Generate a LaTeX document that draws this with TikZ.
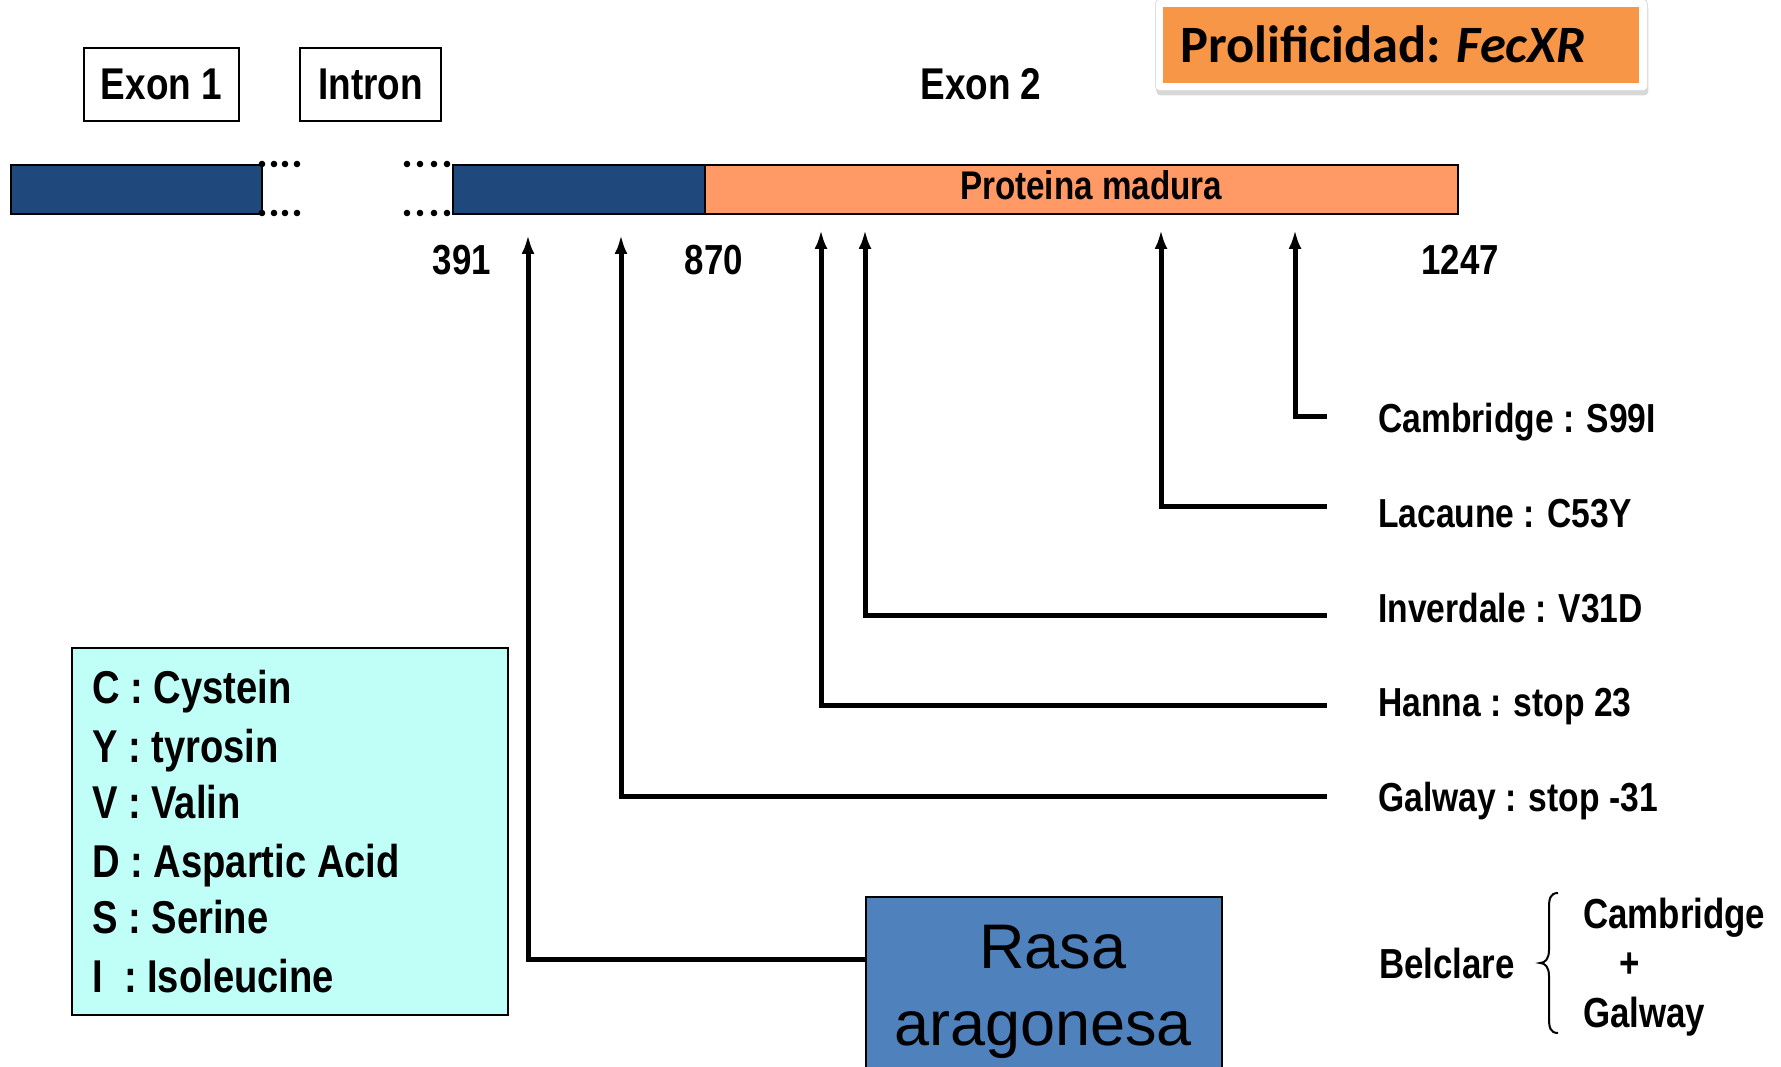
\documentclass[tikz,border=0pt]{standalone}
\usepackage{fontspec}
\setmainfont{Liberation Sans}
\newfontfamily\nb[FakeStretch=0.83]{Liberation Sans Bold}
\newfontfamily\carl{Carlito}
\usetikzlibrary{arrows.meta,shadows}
\definecolor{dblue}{HTML}{1F497D}
\definecolor{protorange}{HTML}{FF9A66}
\definecolor{titleorange}{HTML}{F79646}
\definecolor{rasablue}{HTML}{4F81BD}
\definecolor{legcyan}{HTML}{C0FFF8}
\begin{document}
\begin{tikzpicture}[x=1pt,y=-1pt,
  lbl/.style={font={\nb\fontsize{40.5}{48}\selectfont}, inner sep=0pt, anchor=base west},
  leg/.style={font={\nb\fontsize{46}{54}\selectfont}, inner sep=0pt, anchor=base west},
  num/.style={font={\nb\fontsize{42}{50}\selectfont}, inner sep=0pt, anchor=base},
  exbox/.style={draw, line width=2pt, fill=white, inner sep=0pt, anchor=north west,
    font={\nb\fontsize{44.5}{52}\selectfont}},
  bar/.style={draw, line width=2pt, inner sep=0pt, anchor=north west, minimum height=49pt},
  conn/.style={line width=5pt, -{Latex[length=19pt,width=13pt]}},
  dotc/.style={fill=black}
]
\useasboundingbox (0,0) rectangle (1781,1067);
\fill[white] (0,0) rectangle (1781,1067);
\clip (0,0) rectangle (1781,1067);

% header boxes
\node[exbox, minimum width=155pt, minimum height=73pt] (exon1) at (83,47) {Exon 1};
\node[exbox, minimum width=141pt, minimum height=73pt] (intron) at (299,47) {Intron};
\node[num, font={\nb\fontsize{44.5}{52}\selectfont}] (exon2) at (981,100) {Exon 2};

% title box
\node[fill=white, draw=gray!25, line width=0.8pt, rounded corners=4pt, anchor=north west, minimum width=492pt, minimum height=91pt,
  inner sep=0pt, drop shadow={shadow xshift=1pt, shadow yshift=-5pt, opacity=0.3, fill=gray}] (titleframe) at (1155,-1) {};
\node[fill=titleorange, anchor=north west, minimum width=476pt, minimum height=76pt, inner sep=0pt] (titlebox) at (1163,7) {};
\node[inner sep=0pt, anchor=base west, font={\carl\bfseries\fontsize{52.5}{60}\selectfont}] (title) at (1180,63) {Prolificidad: \textit{FecXR}};

% gene bar
\node[bar, fill=dblue, minimum width=251pt] (bar1) at (10,164) {};
\node[bar, fill=dblue, minimum width=252pt] (bar2) at (452,164) {};
\node[bar, fill=protorange, minimum width=753pt] (bar3) at (704,164) {};
\node[inner sep=0pt, anchor=base, font={\nb\fontsize{40}{48}\selectfont}] (prot) at (1091,200) {Proteina madura};
\foreach \x in {262,274,285,297,407,420,434,447} {
  \fill[dotc] (\x,164) circle (3.3pt);
  \fill[dotc] (\x,213) circle (3.3pt);
}

% numbers
\node[num] (n391) at (462,275) {391};
\node[num] (n870) at (714,275) {870};
\node[num] (n1247) at (1460,275) {1247};

% arrow tips
\coordinate (t1) at (528,235);
\coordinate (t2) at (621,235);
\coordinate (t3) at (821,230);
\coordinate (t4) at (865,230);
\coordinate (t5) at (1161,230);
\coordinate (t6) at (1295,230);
% connector ends
\coordinate (c6) at (1327,416);
\coordinate (c5) at (1327,506);
\coordinate (c4) at (1327,615);
\coordinate (c3) at (1327,705);
\coordinate (c2) at (1327,796);

% labels
\node[lbl] (lcam) at (1378,432) {Cambridge : S99I};
\node[lbl] (llac) at (1378,527) {Lacaune : C53Y};
\node[lbl] (linv) at (1378,622) {Inverdale : V31D};
\node[lbl] (lhan) at (1378,716) {Hanna : stop 23};
\node[lbl] (lgal) at (1378,811) {Galway : stop -31};

% legend
\node[draw, line width=2pt, fill=legcyan, anchor=north west, minimum width=436pt, minimum height=367pt, inner sep=0pt] (legend) at (71,647) {};
\node[leg] (lc) at (92,703) {C : Cystein};
\node[leg] (ly) at (92,762) {Y : tyrosin};
\node[leg] (lv) at (92,818) {V : Valin};
\node[leg] (ld) at (92,877) {D : Aspartic Acid};
\node[leg] (ls) at (92,933) {S : Serine};
\node[leg] (li) at (92,992) {I\ \ : Isoleucine};

% Rasa aragonesa
\node[draw, line width=1.5pt, fill=rasablue, anchor=north west, minimum width=356pt, minimum height=200pt, inner sep=0pt] (rasa) at (865,896) {};
\node[inner sep=0pt, anchor=base, font={\fontsize{63}{75}\selectfont}] (rasa1) at (1053,968) {Rasa};
\node[inner sep=0pt, anchor=base, font={\fontsize{63}{75}\selectfont}] (rasa2) at (1043,1045) {aragonesa};

% connectors
\draw[conn] (c6) -| (t6);
\draw[conn] (c5) -| (t5);
\draw[conn] (c4) -| (t4);
\draw[conn] (c3) -| (t3);
\draw[conn] (c2) -| (t2);
\draw[conn] (rasa.north west) ++(0,63) -| (t1);

% Belclare
\node[lbl, font={\nb\fontsize{42}{50}\selectfont}] (belc) at (1379,978) {Belclare};
\node[lbl, font={\nb\fontsize{42}{50}\selectfont}] (bcam) at (1583,928) {Cambridge};
\node[inner sep=0pt, font={\nb\fontsize{42}{50}\selectfont}] (bplus) at (1630,965) {+};
\node[lbl, font={\nb\fontsize{42}{50}\selectfont}] (bgal) at (1583,1027) {Galway};
\draw[line width=2pt] (1558,893) .. controls (1550,893) and (1549,899) .. (1549,908) -- (1549,950)
  .. controls (1549,959) and (1545,963) .. (1540,963)
  .. controls (1545,963) and (1549,967) .. (1549,976) -- (1549,1018)
  .. controls (1549,1027) and (1550,1033) .. (1558,1033);
\end{tikzpicture}
\end{document}
